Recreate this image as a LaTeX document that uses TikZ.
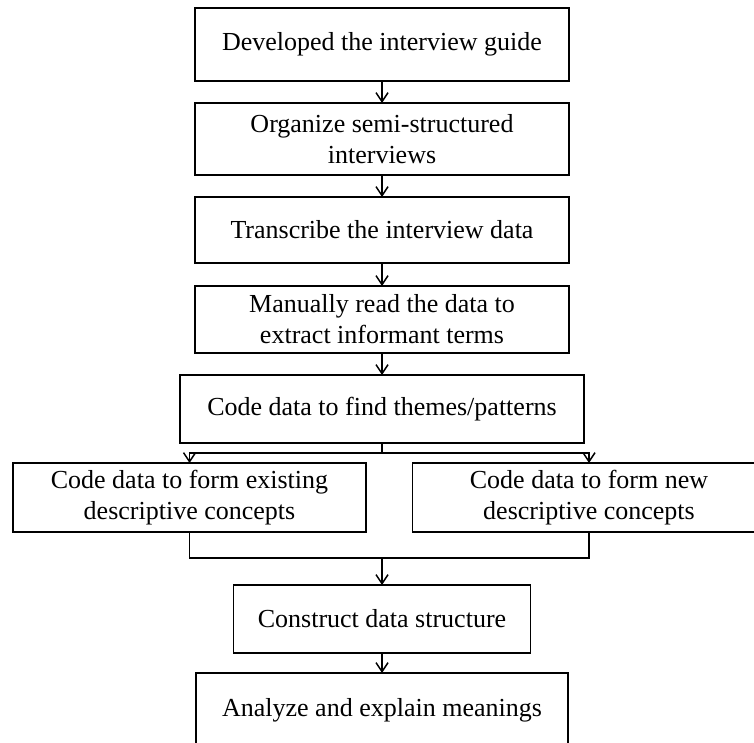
\documentclass[tikz,border=0pt]{standalone}
\usepackage{fontspec}
\setmainfont{Liberation Serif}
\usetikzlibrary{arrows.meta, positioning}
\tikzstyle{process} = [rectangle, minimum width=187pt, minimum height=33pt, align=center, inner sep=2pt, outer sep=0pt, draw=black, line width=0.75pt, font=\fontsize{13}{15.5}\selectfont]
\tikzstyle{arrow} = [line width=0.75pt, -{Straight Barb[length=4.5pt, width=6pt]}]
\tikzstyle{line} = [line width=0.75pt]

\begin{document}
\begin{tikzpicture}[x=0.5pt, y=-0.5pt, node distance=11pt]
\useasboundingbox (0,0) rectangle (754,743);
\clip (0,0) rectangle (754,743);
% Steps in one column
\node (guide) [process, minimum height=36.5pt] at (382,44.5) {Developed the interview guide};
\node (organize) [process, minimum height=36pt, below=of guide] {Organize semi-structured\\interviews};
\node (transcribe) [process, below=of organize] {Transcribe the interview data};
\node (read) [process, minimum height=33.5pt, below=11.5pt of transcribe] {Manually read the data to\\extract informant terms};
\node (themes) [process, minimum width=202pt, minimum height=34pt, below=of read] {Code data to find themes/patterns};
% Two branches
\node (existing) [process, minimum width=176.5pt, minimum height=34.5pt, below=10pt of themes, xshift=-96.25pt] {Code data to form existing\\descriptive concepts};
\node (new) [process, minimum width=176.5pt, minimum height=34.5pt, below=10pt of themes, xshift=103.5pt] {Code data to form new\\descriptive concepts};
% Last steps
\node (structure) [process, minimum width=148.5pt, minimum height=34pt, below=71pt of themes] {Construct data structure};
\node (analyze) [process, minimum width=186pt, minimum height=37pt, below=10pt of structure] {Analyze and explain meanings};

% Arrows
\draw [arrow] (guide) -- (organize);
\draw [arrow] (organize) -- (transcribe);
\draw [arrow] (transcribe) -- (read);
\draw [arrow] (read) -- (themes);
\draw [line] (themes.south) -- ++(0,-5pt) coordinate (split);
\draw [arrow] (split) -| (existing.north);
\draw [arrow] (split) -| (new.north);
\draw [line] (existing.south) -- ++(0,-13pt) coordinate (join) -| (new.south);
\draw [arrow] (join -| structure) -- (structure);
\draw [arrow] (structure) -- (analyze);
\end{tikzpicture}
\end{document}
